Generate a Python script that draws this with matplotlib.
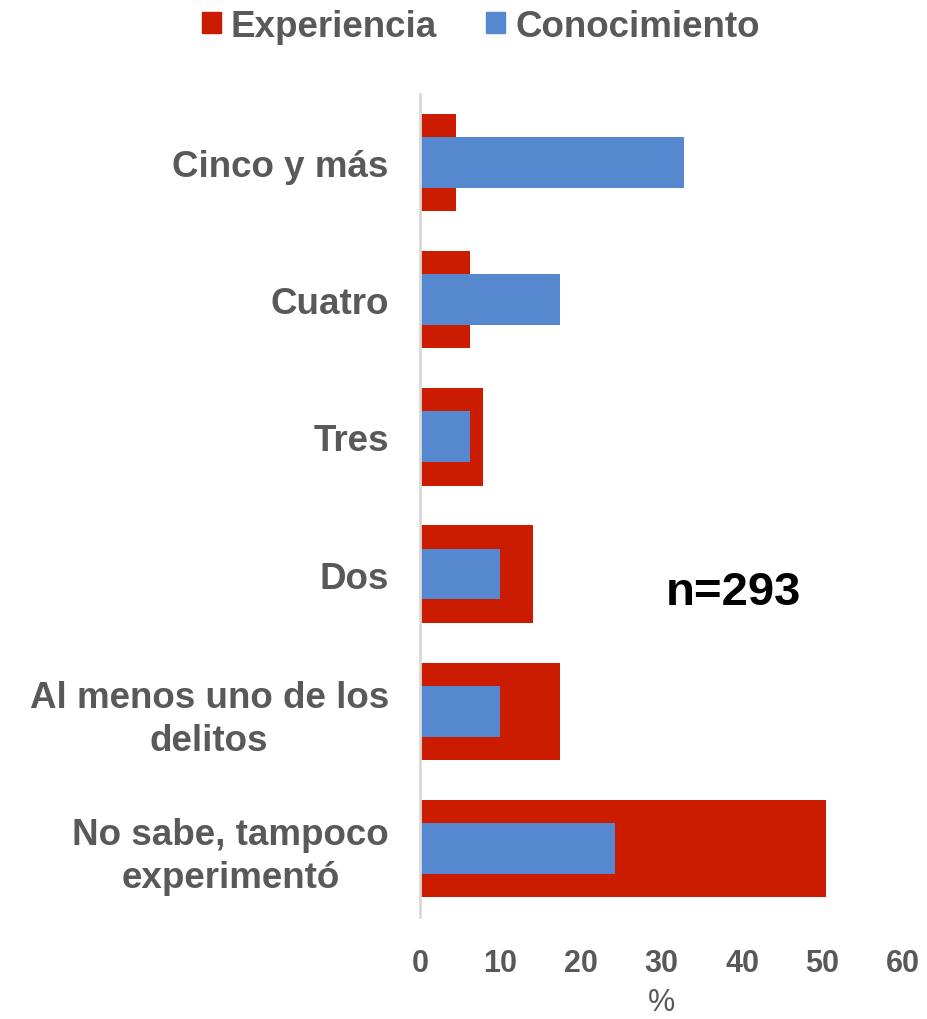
import matplotlib.pyplot as plt
from matplotlib.patches import Patch

categorias = ['No sabe, tampoco\nexperimentó', 'Al menos uno de los\ndelitos', 'Dos', 'Tres', 'Cuatro', 'Cinco y más']
experiencia = [50.4, 17.4, 14.0, 7.8, 6.2, 4.5]
conocimiento = [24.2, 9.9, 9.9, 6.2, 17.4, 32.8]
ticks_x = [0, 10, 20, 30, 40, 50, 60]

rojo = '#CC1C00'
azul = '#5588CF'
gris = '#595959'

plt.rcParams['font.family'] = ['Liberation Sans', 'DejaVu Sans']

fig = plt.figure(figsize=(9.28, 10.2), dpi=100)
ax = fig.add_axes([0.4526, 0.1, 0.5205, 0.807])

y = list(range(len(categorias)))
ax.barh(y, experiencia, height=0.71, color=rojo, label='Experiencia', zorder=2)
ax.barh(y, conocimiento, height=0.37, color=azul, label='Conocimiento', zorder=3)

ax.set_xlim(0, 60)
ax.set_ylim(-0.5, 5.5)
ax.set_xticks(ticks_x)
ax.set_xticklabels([str(t) for t in ticks_x], family=['Liberation Sans Narrow', 'Liberation Sans'],
                   fontweight='bold', fontsize=22, color=gris)
ax.set_yticks(y)
ax.set_yticklabels(categorias, fontsize=26.5, fontweight='bold', color=gris,
                   multialignment='center', linespacing=1.28)
ax.tick_params(axis='both', length=0)
ax.tick_params(axis='x', pad=22)
ax.tick_params(axis='y', pad=22.5)

for s in ['top', 'right', 'bottom']:
    ax.spines[s].set_visible(False)
ax.spines['left'].set_color('#D9D9D9')
ax.spines['left'].set_linewidth(2)
ax.spines['left'].set_zorder(4)

ax.set_xlabel('%', family=['Liberation Sans Narrow', 'Liberation Sans'], fontsize=22, color=gris, labelpad=7)

ax.text(0.648, 0.395, 'n=293', transform=ax.transAxes, fontsize=34, fontweight='bold',
        color='black', ha='center', va='center')

handles = [Patch(color=rojo, label='Experiencia'), Patch(color=azul, label='Conocimiento')]
leg = fig.legend(handles=handles, loc='center', bbox_to_anchor=(0.518, 0.973), ncol=2, frameon=False,
                 handlelength=0.52, handleheight=0.5, handletextpad=0.27, columnspacing=1.33,
                 prop={'size': 26.5, 'weight': 'bold'})
for t in leg.get_texts():
    t.set_color(gris)

fig.savefig('out.png', dpi=100)
